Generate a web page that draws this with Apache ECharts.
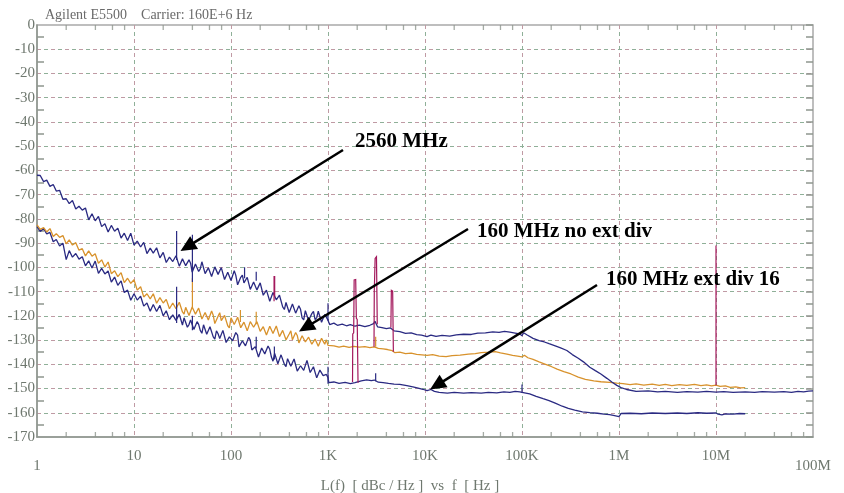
<!DOCTYPE html>
<html>
<head>
<meta charset="utf-8">
<script src="https://cdn.jsdelivr.net/npm/echarts@6/dist/echarts.min.js"></script>
<style>
  html, body { margin: 0; padding: 0; background: #fff; }
  #chart { width: 844px; height: 493px; }
</style>
</head>
<body>
<div id="chart"></div>
<script>
// Offset frequencies (Hz) of the low band, 1 Hz .. 1 kHz
const lowFreq = [1,1.08,1.17,1.26,1.36,1.47,1.58,1.71,1.85,2,2.15,2.32,2.51,2.71,2.93,3.16,3.41,3.69,3.98,4.3,4.64,5.01,5.41,5.84,6.31,6.81,7.36,7.94,8.58,9.26,
  10,10.8,11.7,12.6,13.6,14.7,15.8,17.1,18.5,20,21.5,23.2,25.1,27.1,29.3,31.6,34.1,36.9,39.8,43,46.4,50.1,54.1,58.4,63.1,68.1,73.6,79.4,85.8,92.6,
  100,108,117,126,136,147,158,171,185,200,215,232,251,271,293,316,341,369,398,430,464,501,541,584,631,681,736,794,858,926];

// 2560 MHz trace, low band (dBc/Hz)
const lowTop = [-62.0,-62.1,-64.6,-64.0,-66.6,-65.8,-68.5,-68.2,-71.9,-71.7,
  -73.7,-72.4,-75.9,-74.8,-76.4,-75.5,-80.4,-77.9,-80.8,-79.0,
  -83.2,-82.0,-85.4,-82.7,-85.1,-83.8,-87.9,-85.9,-88.9,-85.9,
  -90.8,-89.2,-91.6,-89.7,-94.3,-92.1,-94.1,-91.9,-96.1,-93.8,
  -98.0,-95.8,-97.6,-95.2,-99.5,-96.5,-99.3,-96.9,-102.0,-98.6,
  -101.7,-97.7,-102.6,-100.2,-103.8,-99.8,-102.9,-100.1,-105.0,-102.0,
  -105.4,-101.4,-107.2,-104.1,-106.4,-104.1,-109.1,-106.0,-109.3,-106.4,
  -111.5,-109.4,-114.0,-110.4,-113.4,-111.5,-116.3,-114.5,-118.6,-115.1,
  -118.9,-115.8,-120.8,-117.9,-121.9,-119.1,-121.6,-118.1,-122.7,-119.4];

// 160 MHz, no external divider, low band
const lowMid = [-82.5,-84.3,-83.6,-85.4,-84.0,-87.3,-86.1,-87.6,-86.9,-90.3,
  -88.7,-90.8,-89.8,-92.9,-92.3,-95.3,-93.2,-95.4,-94.4,-98.3,
  -96.9,-99.9,-97.8,-102.6,-101.4,-103.8,-102.2,-106.3,-104.5,-106.6,
  -105.1,-109.4,-108.0,-112.2,-110.9,-113.0,-110.9,-114.8,-112.5,-114.7,
  -113.2,-117.1,-114.7,-117.1,-114.4,-118.4,-116.5,-119.9,-116.4,-119.3,
  -116.8,-121.3,-118.6,-121.7,-118.0,-123.2,-120.2,-122.0,-119.8,-124.1,
  -120.8,-123.6,-120.6,-124.9,-122.6,-126.2,-122.4,-124.7,-122.4,-126.4,
  -124.5,-127.9,-124.3,-127.3,-124.2,-128.6,-126.0,-129.9,-127.5,-129.9,
  -126.9,-131.2,-128.2,-130.8,-128.8,-131.7,-129.6,-132.6,-129.3,-131.7];

// 160 MHz, external divide-by-16, low band
const lowBot = [-83.2,-85.2,-84.0,-86.2,-85.6,-89.4,-88.5,-91.2,-90.0,-96.8,
  -93.1,-95.8,-94.3,-96.6,-95.6,-99.4,-97.3,-100.3,-97.4,-102.5,
  -100.4,-102.7,-101.5,-106.1,-104.0,-107.4,-105.6,-110.4,-109.4,-113.6,
  -110.9,-113.5,-111.9,-116.0,-114.7,-118.1,-115.3,-118.2,-115.7,-120.0,
  -117.9,-121.6,-119.6,-121.9,-119.4,-123.8,-120.8,-123.6,-122.0,-125.5,
  -123.5,-127.2,-123.8,-127.0,-124.6,-129.6,-127.4,-129.5,-126.0,-131.3,
  -128.0,-129.9,-128.0,-133.6,-129.8,-132.8,-130.0,-134.7,-132.8,-136.7,
  -133.1,-135.7,-133.8,-138.7,-136.1,-139.3,-135.4,-141.0,-138.4,-140.9,
  -138.0,-143.1,-139.9,-142.1,-139.1,-143.9,-140.8,-145.5,-142.6,-144.5];

// Extra readings between the grid above, 32 Hz .. 1 kHz
const fillFreq = [32.8,35.5,38.3,41.4,44.7,48.2,52.1,56.2,60.7,65.6,70.8,76.5,82.5,89.1,96.2,
  104,112,121,131,141,152,164,178,192,207,223,241,261,282,304,328,355,383,414,447,482,521,562,607,655,708,765,825,891,962];
const fillTop = [-95.9,-99.9,-98.3,-102.6,-98.6,-100.6,-98.0,-102.9,-100.1,-103.9,-100.6,-103.2,-100.2,-104.7,-102.2,
  -105.9,-103.2,-107.6,-103.2,-106.0,-104.8,-109.8,-106.4,-109.5,-106.7,-111.5,-110.0,-114.6,-111.0,-113.9,
  -111.9,-117.4,-115.2,-118.0,-114.5,-119.2,-117.3,-121.7,-118.3,-121.8,-118.2,-120.7,-118.5,-123.2,-119.4];
const fillMid = [-119.3,-117.0,-120.5,-116.3,-119.0,-116.9,-121.5,-118.3,-122.0,-119.8,-123.4,-118.7,-122.1,-120.5,-125.0,
  -121.1,-124.0,-120.7,-124.5,-122.6,-126.5,-122.3,-125.2,-122.1,-126.5,-124.5,-128.5,-124.9,-127.2,-124.4,
  -129.3,-126.6,-129.8,-126.2,-130.2,-128.1,-132.0,-127.9,-131.1,-128.1,-131.5,-129.2,-133.1,-129.3,-129.9];
const fillBot = [-120.8,-124.7,-121.7,-125.6,-122.4,-126.0,-123.7,-127.6,-124.5,-128.7,-126.2,-129.4,-126.0,-131.0,-128.7,
  -130.3,-126.9,-132.8,-130.3,-132.4,-128.9,-134.1,-132.7,-137.0,-133.3,-135.7,-132.5,-137.0,-135.5,-139.8,
  -136.1,-140.0,-137.7,-140.8,-137.8,-142.8,-140.6,-142.5,-138.4,-143.4,-141.0,-145.6,-142.4,-144.7,-144.2];

// High band, [Hz, dBc/Hz]
const highTop = [[1000,-121.8],[1040,-123.6],[1150,-123.0],[1250,-123.9],[1400,-123.4],[1550,-124.1],[1700,-123.6],[1900,-124.3],[2100,-123.8],[2400,-124.5],[2700,-123.9],[2950,-123.2],[3050,-122.2],[3250,-124.6],[3600,-124.9],[4000,-125.3],[4400,-125.0],[4800,-126.2],[5500,-126.5],[6300,-127.2],[7200,-127.0],[8200,-127.8],[9200,-128.0],[10500,-128.6],[11500,-128.0],[13000,-128.5],[15000,-128.1],[18000,-128.4],[21000,-127.9],[25000,-127.6],[30000,-127.7],[35000,-127.1],[42000,-127.0],[50000,-126.6],[58000,-126.8],[66000,-126.4],[75000,-126.7],[85000,-127.1],[95000,-127.5],[100000,-128.2],[104000,-127.0],[112000,-127.8],[130000,-129.3],[150000,-130.2],[170000,-130.8],[190000,-131.5],[220000,-132.4],[250000,-133.2],[290000,-134.3],[330000,-136.0],[380000,-137.5],[430000,-139.0],[500000,-141.2],[570000,-142.6],[650000,-144.0],[750000,-145.8],[850000,-147.4],[950000,-148.7],[1050000,-149.6],[1200000,-150.4],[1500000,-151.2],[2000000,-151.0],[2500000,-151.4],[3000000,-151.2],[4000000,-151.6],[5000000,-151.3],[6500000,-151.5],[8000000,-151.2],[10000000,-151.5],[12000000,-151.3],[15000000,-151.6],[20000000,-151.4],[25000000,-151.6],[30000000,-151.3],[40000000,-151.5],[50000000,-151.3],[60000000,-151.6],[70000000,-151.2],[80000000,-151.4],[90000000,-151.1],[100000000,-151.0]];

const highMid = [[1000,-132.2],[1040,-132.8],[1150,-132.4],[1300,-132.9],[1450,-132.5],[1650,-133.0],[1850,-132.6],[2100,-132.9],[2400,-132.7],[2700,-133.1],[3000,-132.8],[3300,-133.4],[3700,-133.6],[4100,-133.9],[4600,-134.4],[4900,-135.2],[5500,-135.0],[6300,-135.6],[7200,-135.4],[8200,-135.9],[9300,-136.1],[10500,-136.3],[12000,-136.0],[14000,-136.6],[16500,-136.8],[19000,-136.4],[23000,-136.2],[28000,-135.8],[33000,-135.6],[38000,-135.2],[45000,-135.0],[53000,-134.8],[60000,-135.3],[70000,-135.8],[80000,-136.3],[90000,-136.6],[100000,-136.9],[106000,-136.3],[115000,-137.3],[130000,-138.0],[150000,-139.0],[175000,-140.0],[200000,-140.9],[230000,-142.0],[270000,-143.0],[320000,-144.0],[380000,-145.3],[450000,-146.2],[550000,-146.8],[650000,-147.2],[800000,-147.5],[950000,-147.8],[1100000,-148.0],[1300000,-148.4],[1500000,-148.1],[1800000,-148.6],[2200000,-148.2],[2600000,-148.7],[3000000,-148.3],[3500000,-148.8],[4200000,-148.4],[5000000,-148.7],[6000000,-148.3],[7000000,-148.8],[8000000,-148.5],[9000000,-148.9],[10000000,-148.6],[11000000,-149.1],[12500000,-148.9],[14000000,-149.5],[16000000,-149.3],[18000000,-149.7],[20000000,-149.6]];

const highBot = [[1000,-145.5],[1020,-147.6],[1150,-147.3],[1300,-147.9],[1500,-147.5],[1700,-148.0],[1900,-147.6],[2200,-146.8],[2500,-146.4],[2800,-146.7],[3000,-146.5],[3300,-147.4],[3700,-147.6],[4200,-147.9],[4800,-148.2],[5500,-148.3],[6500,-148.8],[7500,-149.3],[8500,-149.8],[9500,-150.3],[10500,-150.9],[11500,-150.4],[12500,-151.2],[14000,-151.6],[17000,-151.9],[20000,-151.6],[25000,-151.9],[30000,-151.7],[38000,-151.9],[45000,-151.6],[55000,-151.8],[65000,-151.4],[75000,-151.6],[85000,-151.2],[95000,-151.4],[100000,-151.6],[120000,-152.2],[140000,-153.2],[165000,-154.2],[190000,-155.0],[220000,-156.0],[260000,-157.3],[300000,-158.2],[350000,-158.9],[420000,-159.6],[500000,-159.9],[600000,-160.2],[700000,-160.6],[800000,-160.8],[900000,-161.2],[1000000,-161.6],[1050000,-160.3],[1300000,-160.2],[1700000,-160.4],[2200000,-160.1],[3000000,-160.3],[4000000,-160.1],[5000000,-160.3],[6500000,-160.0],[8000000,-160.2],[10000000,-160.1],[10500000,-160.6],[11500000,-160.9],[12500000,-160.5],[15000000,-160.6],[17500000,-160.3],[20000000,-160.4]];

// Discrete spurs on each trace: [from, to] pairs
const topSpikes = [[[27.5,-97],[27.5,-85]],[[40,-86.5],[40,-106]],[[138,-104.5],[138,-100]],[[182,-105.5],[182,-101.8]],[[1000,-122],[1000,-114.8]]];
const midSpikes = [[[40,-116.5],[40,-104.5]],[[125,-122.5],[125,-117.6]],[[182,-123.5],[182,-118.3]],[[3100,-132.8],[3100,-128.6]]];
const botSpikes = [[[27.5,-123],[27.5,-108]],[[40,-126],[40,-120]],[[182,-133.5],[182,-128.6]],[[280,-138],[280,-132.7]],[[1000,-148],[1000,-141]],[[3100,-147],[3100,-143.7]],[[100000,-151.6],[100000,-148.3]]];

// Line-related spurs drawn in magenta
const magentaSpurs = [
  [[278,-114],[278,-103.8],[282,-103.8],[282,-112]],
  [[1790,-147.3],[1800,-127.5],[1840,-127],[1860,-105.2],[1930,-105],[1960,-121],[2000,-121.5],[2040,-147.6]],
  [[2980,-132.8],[3000,-110],[3060,-96.3],[3160,-95.6],[3220,-123.5]],
  [[4450,-124.8],[4500,-109.5],[4640,-109.8],[4720,-134.8]],
  [[10000000,-148.6],[10000000,-91]]
];

// Axis tick labels
const decades = [1,10,100,1e3,1e4,1e5,1e6,1e7,1e8];
const xTickLabels = ['1','10','100','1K','10K','100K','1M','10M','100M'];
const minorTickFreqs = [2,4,6,8,20,40,60,80,200,400,600,800,2e3,4e3,6e3,8e3,2e4,4e4,6e4,8e4,2e5,4e5,6e5,8e5,2e6,4e6,6e6,8e6,2e7,4e7,6e7,8e7];

const traceNames = ['2560 MHz', '160 MHz no ext div', '160 MHz ext div 16'];

const NAVY = '#2a2a82';
const ORANGE = '#d8922c';
const MAGENTA = '#a3185c';
const AXIS = '#8e968e';
const LABEL = '#6f786f';
const PINK = '#c09aa4';
const GREEN = '#8fb098';
const SERIF = '"Liberation Serif", "Times New Roman", serif';

const chart = echarts.init(document.getElementById('chart'), null, { renderer: 'canvas' });

function trace(name, low, fill, high, color, z) {
  const pts = lowFreq.map((f, i) => [f, low[i]])
    .concat(fillFreq.map((f, i) => [f, fill[i]]))
    .sort((a, b) => a[0] - b[0]);
  return {
    type: 'line', name: name, z: z,
    data: pts.concat(high),
    showSymbol: false, symbol: 'none', animation: false,
    lineStyle: { color: color, width: 1.3 }
  };
}
function segs(name, list, color, z) {
  return {
    type: 'lines', name: name, coordinateSystem: 'cartesian2d', polyline: true, z: z,
    data: list.map(c => ({ coords: c })),
    lineStyle: { color: color, width: 1.2, opacity: 1 }, animation: false, silent: true
  };
}
function xLabel(v) {
  const i = decades.findIndex(d => Math.abs(d - v) / d < 1e-6);
  if (i < 0) return '';
  const t = xTickLabels[i];
  return (i === 0 || i === decades.length - 1) ? '{lo|' + t + '}' : t;
}

// Annotation arrows: start point and tip (px)
const arrows = [
  { from: [343, 150], to: [180.5, 251] },
  { from: [468, 229], to: [299, 331.5] },
  { from: [597, 285], to: [430, 389.5] }
];
const notes = [
  { text: traceNames[0], x: 355, y: 142 },
  { text: traceNames[1], x: 477, y: 232 },
  { text: traceNames[2], x: 606, y: 280 }
];

const graphics = [{
  type: 'text', left: 45, top: 8, z: 100,
  style: { text: 'Agilent E5500    Carrier: 160E+6 Hz', font: '14px ' + SERIF, fill: '#6a6a6a' }
}];
arrows.forEach(a => {
  const dx = a.to[0] - a.from[0], dy = a.to[1] - a.from[1];
  const len = Math.hypot(dx, dy), ux = dx / len, uy = dy / len;
  const head = 16, half = 7.5;
  const bx = a.to[0] - ux * head, by = a.to[1] - uy * head;
  graphics.push({
    type: 'line', z: 100,
    shape: { x1: a.from[0], y1: a.from[1], x2: bx + ux * 2, y2: by + uy * 2 },
    style: { stroke: '#000', lineWidth: 2.5 }
  });
  graphics.push({
    type: 'polygon', z: 100,
    shape: { points: [a.to, [bx - uy * half, by + ux * half], [bx + uy * half, by - ux * half]] },
    style: { fill: '#000' }
  });
});
notes.forEach(n => graphics.push({
  type: 'text', z: 100, x: n.x, y: n.y,
  style: { text: n.text, font: 'bold 21px ' + SERIF, fill: '#000', verticalAlign: 'middle', align: 'left' }
}));

const option = {
  animation: false,
  backgroundColor: '#fff',
  grid: {
    left: 37, right: 31, top: 25, bottom: 56, show: true, borderColor: '#a9a9a9', borderWidth: 1.5,
    containLabel: false, outerBoundsMode: 'none'
  },
  xAxis: [{
    type: 'log', logBase: 10, min: 1, max: 1e8, position: 'bottom',
    axisLine: { show: true, onZero: false, lineStyle: { color: AXIS, width: 1.5 } },
    axisTick: { show: false },
    axisLabel: {
      margin: 12, color: LABEL, fontFamily: SERIF, fontSize: 15, formatter: xLabel,
      showMinLabel: true, showMaxLabel: true, hideOverlap: false,
      rich: { lo: { padding: [10, 0, 0, 0], color: LABEL, fontFamily: SERIF, fontSize: 15 } }
    },
    splitLine: { show: true, showMinLine: false, showMaxLine: false, lineStyle: { color: PINK, type: [4, 10], width: 1 } },
    name: 'L(f)  [ dBc / Hz ]  vs  f  [ Hz ]', nameLocation: 'middle', nameGap: 35,
    nameTextStyle: { color: LABEL, fontFamily: SERIF, fontSize: 15, padding: [0, 30, 0, 0] }
  }, {
    type: 'log', logBase: 10, min: 1, max: 1e8, position: 'top',
    axisLine: { show: false }, axisTick: { show: false }, axisLabel: { show: false },
    splitLine: { show: true, showMinLine: false, showMaxLine: false, lineStyle: { color: GREEN, type: [4, 10], dashOffset: 7, width: 1 } }
  }],
  yAxis: [{
    type: 'value', min: -170, max: 0, interval: 10, position: 'left',
    axisLine: { show: true, onZero: false, lineStyle: { color: AXIS, width: 1.5 } },
    axisTick: { show: false, inside: true },
    minorTick: { show: true, splitNumber: 2, length: 7, lineStyle: { color: AXIS, width: 1.5 } },
    axisLabel: { margin: 2, color: LABEL, fontFamily: SERIF, fontSize: 15 },
    splitLine: { show: true, showMinLine: false, showMaxLine: false, lineStyle: { color: PINK, type: [4, 10], width: 1 } }
  }, {
    type: 'value', min: -170, max: 0, interval: 10, position: 'right',
    axisLine: { show: false },
    axisTick: { show: true, inside: true, length: 7, lineStyle: { color: AXIS, width: 1.5 } },
    minorTick: { show: true, splitNumber: 2, length: 7, lineStyle: { color: AXIS, width: 1.5 } },
    axisLabel: { show: false },
    splitLine: { show: true, showMinLine: false, showMaxLine: false, lineStyle: { color: GREEN, type: [4, 10], dashOffset: 7, width: 1 } }
  }],
  series: [
    trace(traceNames[2], lowBot, fillBot, highBot, NAVY, 3),
    trace(traceNames[1], lowMid, fillMid, highMid, ORANGE, 4),
    trace(traceNames[0], lowTop, fillTop, highTop, NAVY, 5),
    segs('spurs ' + traceNames[2], botSpikes, NAVY, 6),
    segs('spurs ' + traceNames[1], midSpikes, ORANGE, 6),
    segs('spurs ' + traceNames[0], topSpikes, NAVY, 6),
    segs('line spurs', magentaSpurs, MAGENTA, 7),
    {
      type: 'scatter', name: 'minor ticks bottom', data: minorTickFreqs.map(f => [f, -170]),
      symbol: 'rect', symbolSize: [1.3, 5], symbolOffset: [0, -2.5], clip: false, silent: true, z: 20,
      itemStyle: { color: AXIS }
    },
    {
      type: 'scatter', name: 'minor ticks top', data: minorTickFreqs.map(f => [f, 0]),
      symbol: 'rect', symbolSize: [1.3, 5], symbolOffset: [0, 2.5], clip: false, silent: true, z: 20,
      itemStyle: { color: AXIS }
    }
  ],
  graphic: graphics
};
chart.setOption(option);
</script>
</body>
</html>
